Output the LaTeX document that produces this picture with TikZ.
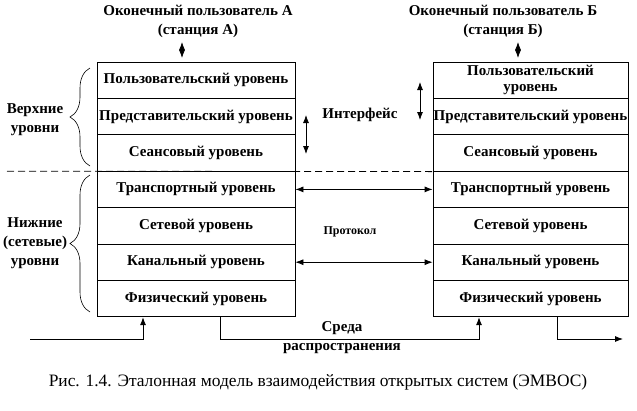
\documentclass[tikz,border=0pt]{standalone}
\usepackage{fontspec}
\setmainfont{Liberation Serif}
\usetikzlibrary{arrows.meta,decorations.pathreplacing}

\begin{document}
\begin{tikzpicture}[x=1pt,y=-1pt,>={Latex[length=8pt,width=6pt]},line width=0.8pt,
    layer/.style={draw,minimum width=198pt,minimum height=36.4pt,inner sep=0pt,align=center,
      font=\bfseries\fontsize{15}{16}\selectfont},
    layerb/.style={layer,minimum width=195pt},
    lbl/.style={align=center,inner sep=0pt,font=\bfseries\fontsize{15}{19}\selectfont},
    brc/.style={decorate,decoration={brace,amplitude=20pt},line width=0.6pt}]
\useasboundingbox (0,0) rectangle (637,410);
% stack of station A
\node[layer] (pA) at (196,80.2) {Пользовательский уровень};
\node[layer] (rA) at (196,116.6) {Представительский уровень};
\node[layer] (sA) at (196,153) {Сеансовый уровень};
\node[layer] (tA) at (196,189.4) {Транспортный уровень};
\node[layer] (nA) at (196,225.8) {Сетевой уровень};
\node[layer] (kA) at (196,262.2) {Канальный уровень};
\node[layer] (fA) at (196,298.6) {Физический уровень};
% stack of station B
\node[layerb] (pB) at (530.5,80.2) {Пользовательский\\уровень};
\node[layerb] (rB) at (530.5,116.6) {Представительский уровень};
\node[layerb] (sB) at (530.5,153) {Сеансовый уровень};
\node[layerb] (tB) at (530.5,189.4) {Транспортный уровень};
\node[layerb] (nB) at (530.5,225.8) {Сетевой уровень};
\node[layerb] (kB) at (530.5,262.2) {Канальный уровень};
\node[layerb] (fB) at (530.5,298.6) {Физический уровень};
% users
\node[lbl] (userA) at (198,21) {Оконечный пользователь А\\(станция А)};
\node[lbl] (userB) at (503,21) {Оконечный пользователь Б\\(станция Б)};
\draw [<->] (182,42) -- (182,58);
\draw [<->] (518,42) -- (518,58);
% interface
\draw [<->] (306,115) -- (306,154);
\draw [<->] (420,82) -- (420,120);
\node[lbl] (intf) at (360,115) {Интерфейс};
% protocol
\draw [<->] (tA.east) -- (tB.west);
\draw [<->] (kA.east) -- (kB.west);
\node[lbl,font=\bfseries\fontsize{12}{14}\selectfont] (prot) at (350,232) {Протокол};
% border of upper and lower levels
\draw [dash pattern=on 7pt off 4pt] (7,171.2) -- (sB.south west);
% medium
\draw [->] (30,339) -| ([xshift=-53pt]fA.south);
\draw [->] ([xshift=24pt]fA.south) -- ++(0,22) -| ([xshift=-51.5pt]fB.south);
\draw [->] ([xshift=26.5pt]fB.south) |- (623,339);
\node[lbl] (med) at (342,337.5) {Среда\\распространения};
% levels
\draw [brc] (90,166) -- (90,68);
\draw [brc] (90,312) -- (90,175);
\node[lbl] (up) at (35,120) {Верхние\\уровни};
\node[lbl] (low) at (35,243) {Нижние\\(сетевые)\\уровни};
% caption
\node[font=\fontsize{17.4}{19}\selectfont] (cap) at (318,382) {Рис. 1.4. Эталонная модель взаимодействия открытых систем (ЭМВОС)};
\end{tikzpicture}
\end{document}
